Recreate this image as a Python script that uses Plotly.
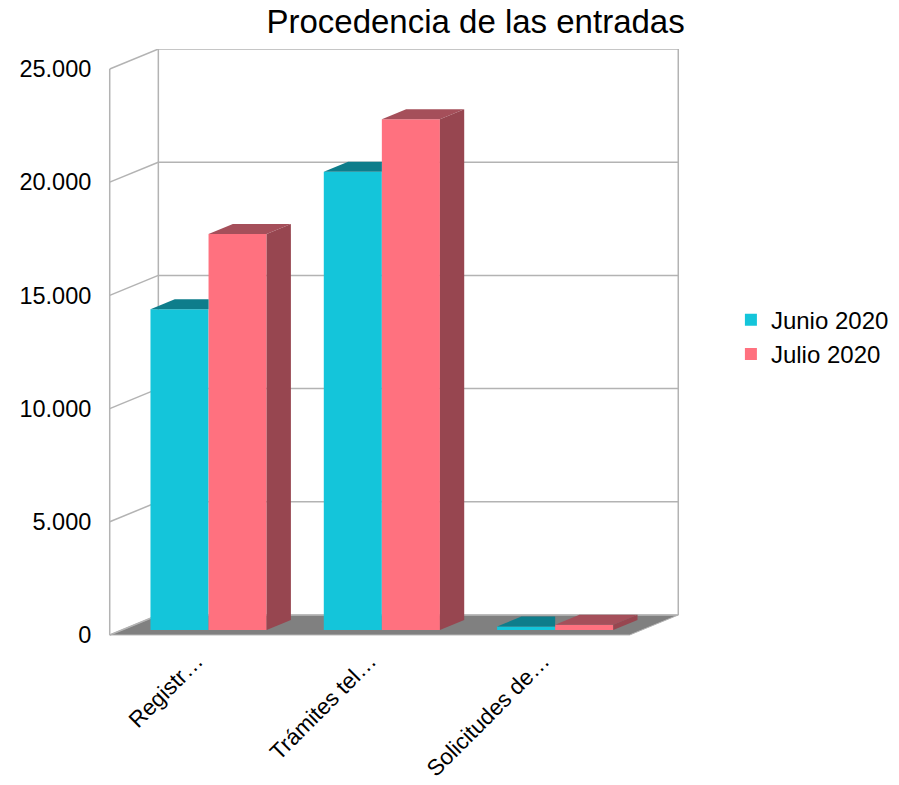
import plotly.graph_objects as go

# ---- data ----
categorias = ["Registr…", "Trámites tel…", "Solicitudes de…"]
junio_2020 = [14170, 20240, 150]
julio_2020 = [17490, 22560, 230]
y_ticks = [0, 5000, 10000, 15000, 20000, 25000]

# ---- pseudo-3D geometry (axis units) ----
Y_MAX = 25000
DEPTH_X = 0.2804          # horizontal shift of the back wall, in category units
DEPTH_Y = 883             # vertical shift of the back wall, in value units
BAR_W = 0.335             # width of one bar
Z0, Z1 = 0.25, 0.75       # bar depth inside the box (0 = front, 1 = back)

CYAN, CYAN_TOP = "#14c5da", "#0e7d8b"
PINK, PINK_TOP, PINK_SIDE = "#ff717f", "#a54f5a", "#974650"
GRID = "#b3b3b3"
FONT = "Liberation Sans"

n = len(categorias)
x_left, x_right = -0.5, n - 0.5


def pt(x, v, z):
    """Project a point at category x, value v and depth z onto the front plane."""
    return x + z * DEPTH_X, v + z * DEPTH_Y


def path(points):
    return "M " + " L ".join(f"{x},{y}" for x, y in points) + " Z"


shapes = []

# floor
shapes.append(dict(type="path", xref="x", yref="y", layer="below",
                   path=path([pt(x_left, 0, 0), pt(x_right, 0, 0),
                              pt(x_right, 0, 1), pt(x_left, 0, 1)]),
                   fillcolor="#808080", line=dict(color=GRID, width=1)))

# back-wall gridlines and left-wall diagonals
for v in y_ticks:
    (bx0, by), (bx1, _) = pt(x_left, v, 1), pt(x_right, v, 1)
    shapes.append(dict(type="line", xref="x", yref="y", layer="below",
                       x0=bx0, y0=by, x1=bx1, y1=by,
                       line=dict(color=GRID, width=1.5)))
    fx, fy = pt(x_left, v, 0)
    shapes.append(dict(type="line", xref="x", yref="y", layer="below",
                       x0=fx, y0=fy, x1=bx0, y1=by,
                       line=dict(color=GRID, width=1.5)))

# wall edges
for (xa, za) in [(x_left, 0), (x_left, 1), (x_right, 1)]:
    (ex, ey0), (_, ey1) = pt(xa, 0, za), pt(xa, Y_MAX, za)
    shapes.append(dict(type="line", xref="x", yref="y", layer="below",
                       x0=ex, y0=ey0, x1=ex, y1=ey1,
                       line=dict(color=GRID, width=1.5)))

# bar top and side faces
for i in range(n):
    # June bar (left of the pair): its right side is hidden by the July bar
    xl, xr = i - BAR_W, i
    v = junio_2020[i]
    a, b, d = pt(xl, v, Z0), pt(xr, v, Z0), pt(xl, v, Z1)
    c = (b[0], v + Z1 * DEPTH_Y)
    shapes.append(dict(type="path", xref="x", yref="y", layer="above",
                       path=path([a, b, c, d]), fillcolor=CYAN_TOP, line=dict(width=0)))

    # July bar (right of the pair)
    xl, xr = i, i + BAR_W
    v = julio_2020[i]
    shapes.append(dict(type="path", xref="x", yref="y", layer="above",
                       path=path([pt(xl, v, Z0), pt(xr, v, Z0), pt(xr, v, Z1), pt(xl, v, Z1)]),
                       fillcolor=PINK_TOP, line=dict(width=0)))
    shapes.append(dict(type="path", xref="x", yref="y", layer="above",
                       path=path([pt(xr, 0, Z0), pt(xr, 0, Z1), pt(xr, v, Z1), pt(xr, v, Z0)]),
                       fillcolor=PINK_SIDE, line=dict(width=0)))

fig = go.Figure()
base = Z0 * DEPTH_Y
shift = Z0 * DEPTH_X
fig.add_trace(go.Bar(name="Junio 2020", x=[i + shift for i in range(n)], y=junio_2020,
                     base=base, width=BAR_W, offset=-BAR_W,
                     marker=dict(color=CYAN, line=dict(width=0)), hoverinfo="skip"))
fig.add_trace(go.Bar(name="Julio 2020", x=[i + shift for i in range(n)], y=julio_2020,
                     base=base, width=BAR_W, offset=0,
                     marker=dict(color=PINK, line=dict(width=0)), hoverinfo="skip"))

# pixel layout of the box
PX_PER_CAT = 173.33
PX_PER_VAL = 566 / 25000
x_pad, y_pad = 0.01, 90
x_range = [x_left - x_pad, x_right + DEPTH_X + x_pad]
y_range = [-y_pad, Y_MAX + DEPTH_Y]
left_px = 110 - x_pad * PX_PER_CAT
right_px = left_px + (x_range[1] - x_range[0]) * PX_PER_CAT
top_px = 635 - (Y_MAX + DEPTH_Y) * PX_PER_VAL
bottom_px = 635 + y_pad * PX_PER_VAL

fig.update_layout(
    width=899, height=785,
    margin=dict(l=left_px, r=899 - right_px, t=top_px, b=785 - bottom_px, autoexpand=False),
    paper_bgcolor="white", plot_bgcolor="white",
    separators=",.",
    barmode="overlay",
    font=dict(family=FONT, color="#000000"),
    title=dict(text="Procedencia de las entradas", font=dict(size=33, family=FONT),
               xref="container", x=0.529, xanchor="center",
               yref="container", y=0.973, yanchor="middle"),
    legend=dict(x=1.089, xanchor="left", y=0.51, yanchor="middle",
                font=dict(size=24, family=FONT), bgcolor="rgba(0,0,0,0)",
                tracegroupgap=0),
    shapes=shapes,
    xaxis=dict(range=x_range, tickmode="array", tickvals=list(range(n)), ticktext=categorias,
               tickangle=-45, tickfont=dict(size=22.5, family=FONT),
               showgrid=False, zeroline=False, showline=False,
               ticks="outside", ticklen=1, tickcolor="rgba(0,0,0,0)"),
    yaxis=dict(range=y_range, tickmode="array", tickvals=y_ticks, tickformat=",.0f",
               tickfont=dict(size=23.5, family=FONT),
               showgrid=False, zeroline=False, showline=False,
               ticks="outside", ticklen=11, tickcolor="rgba(0,0,0,0)"),
    showlegend=True,
)

fig.write_html("out.html")
